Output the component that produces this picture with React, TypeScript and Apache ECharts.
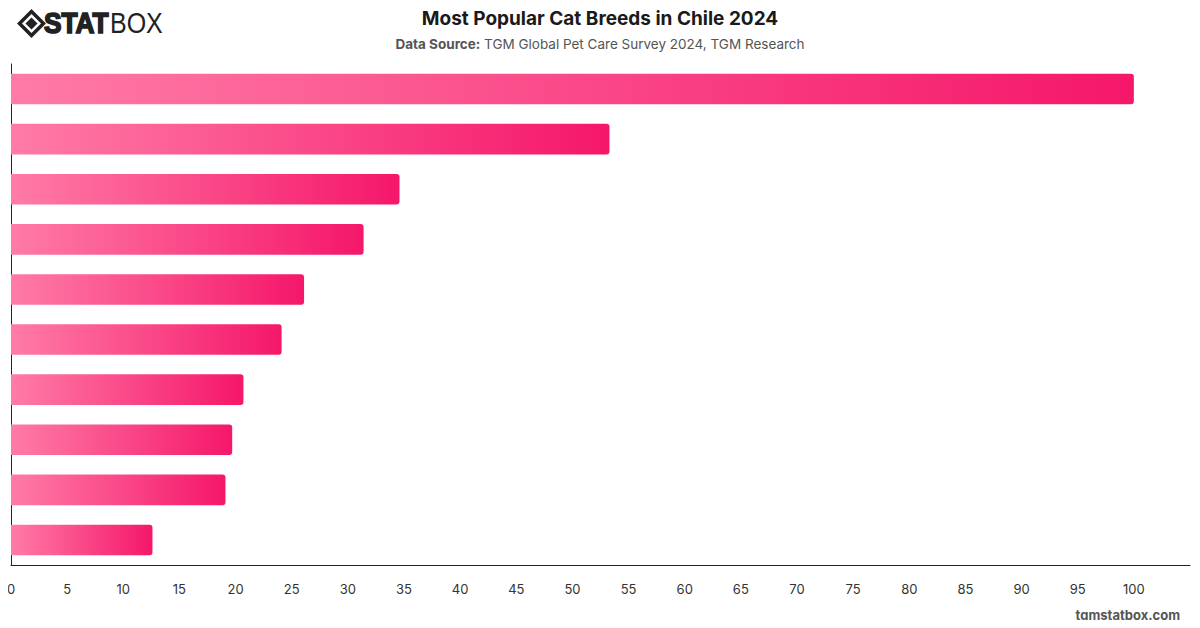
import React, { useEffect, useRef } from "react";
import * as echarts from "echarts";

// Ranked breeds (labels hidden on the axis), top to bottom
const breeds = ["1", "2", "3", "4", "5", "6", "7", "8", "9", "10"];
// Relative popularity index (top breed = 100)
const popularity = [100, 53.3, 34.6, 31.4, 26.1, 24.1, 20.7, 19.7, 19.1, 12.6];
const xTicksMax = 105;
const xTickStep = 5;

const title = "Most Popular Cat Breeds in Chile 2024";
const sourceLabel = "Data Source:";
const sourceText = " TGM Global Pet Care Survey 2024, TGM Research";
const footer = "tgmstatbox.com";

export default function App() {
  const ref = useRef<HTMLDivElement>(null);

  useEffect(() => {
    if (!ref.current) return;
    const chart = echarts.init(ref.current, null, { renderer: "svg" });

    const barGradient = new echarts.graphic.LinearGradient(0, 0, 1, 0, [
      { offset: 0, color: "#ff7ba7" },
      { offset: 1, color: "#f5176a" },
    ]);

    chart.setOption({
      animation: false,
      backgroundColor: "#ffffff",
      textStyle: { fontFamily: "Inter, 'Noto Sans', sans-serif" },
      title: {
        text: title,
        left: "center",
        top: 4,
        textStyle: {
          fontSize: 19,
          fontWeight: "bold",
          color: "#1a1a1a",
          fontFamily: "Inter, sans-serif",
        },
        subtext: `{b|${sourceLabel}}{n|${sourceText}}`,
        itemGap: 9,
        subtextStyle: {
          rich: {
            b: { fontSize: 13.5, fontWeight: "bold", color: "#555", fontFamily: "Inter, sans-serif" },
            n: { fontSize: 13.5, color: "#555", fontFamily: "Inter, sans-serif" },
          },
        },
      },
      grid: { left: 11, right: 10, top: 64, bottom: 63, containLabel: false },
      xAxis: {
        type: "value",
        min: 0,
        max: xTicksMax,
        interval: xTickStep,
        axisLine: { show: true, lineStyle: { color: "#222", width: 1 } },
        axisTick: { show: false },
        splitLine: { show: false },
        axisLabel: {
          showMaxLabel: false,
          color: "#333",
          fontSize: 13,
          margin: 17,
          fontFamily: "Inter, sans-serif",
        },
      },
      yAxis: {
        type: "category",
        data: breeds,
        inverse: true,
        axisLine: { show: true, lineStyle: { color: "#222", width: 1 } },
        axisTick: { show: false },
        axisLabel: { show: false },
        splitLine: { show: false },
      },
      series: [
        {
          type: "bar",
          data: popularity,
          barWidth: "61%",
          itemStyle: { color: barGradient, borderRadius: [0, 3, 3, 0] },
        },
      ],
      graphic: [
        {
          type: "group",
          left: 17,
          top: 9,
          children: [
            {
              type: "polygon",
              shape: { points: [[12, 0], [24, 12], [12, 24], [0, 12]] },
              style: { fill: "none", stroke: "#222", lineWidth: 3.5 },
            },
            {
              type: "polygon",
              shape: { points: [[12, 6], [18, 12], [12, 18], [6, 12]] },
              style: { fill: "#222" },
            },
          ],
        },
        {
          type: "text",
          x: 44,
          y: 8,
          scaleX: 1.05,
          scaleY: 1.18,
          style: {
            text: "STAT",
            fontSize: 25,
            fontWeight: 900,
            fill: "#222",
            stroke: "#222",
            lineWidth: 1.4,
            fontFamily: "'Liberation Sans', Arial, sans-serif",
          },
        },
        {
          type: "text",
          x: 110,
          y: 8,
          scaleY: 1.18,
          style: {
            text: "BOX",
            fontSize: 25,
            fontWeight: 300,
            fill: "#222",
            fontFamily: "'Liberation Sans', Arial, sans-serif",
          },
        },
        {
          type: "text",
          right: 20,
          top: 608,
          style: {
            text: footer,
            fontSize: 13,
            fontWeight: "bold",
            fill: "#555",
            fontFamily: "Inter, sans-serif",
          },
        },
      ],
    });

    return () => chart.dispose();
  }, []);

  return <div ref={ref} style={{ width: 1200, height: 628, margin: -8 }} />;
}
